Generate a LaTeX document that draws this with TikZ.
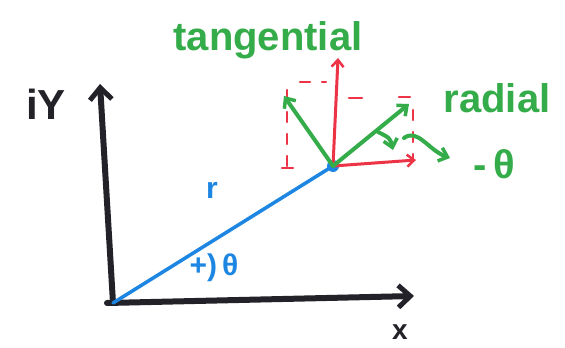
\documentclass[tikz,border=0pt]{standalone}
\usepackage{fontspec}
\setmainfont{Liberation Sans}
\usetikzlibrary{arrows.meta}
\definecolor{gr}{RGB}{52,172,74}
\definecolor{rd}{RGB}{236,52,70}
\definecolor{bl}{RGB}{28,134,226}
\definecolor{bk}{RGB}{34,34,40}
\tikzset{
  blackaxis/.style={bk, line width=6pt, -{Straight Barb[length=12pt,width=22pt,line width=5pt]}},
  redaxis/.style={rd, line width=3pt, -{Straight Barb[length=7pt,width=12pt,line width=2.5pt]}},
  grarrow/.style={gr, line width=4pt, -{Straight Barb[length=8pt,width=14pt,line width=3.5pt]}},
  reddash/.style={rd, line width=2.5pt, dash pattern=on 10pt off 12pt},
  grlabel/.style={text=gr, font=\fontsize{40}{40}\selectfont\bfseries, inner sep=0pt},
  bllabel/.style={text=bl, font=\fontsize{30}{30}\selectfont\bfseries, inner sep=0pt},
  bklabel/.style={text=bk, font=\fontsize{42}{42}\selectfont\bfseries, inner sep=0pt}
}
\begin{document}
\begin{tikzpicture}[x=1pt,y=-1pt, line cap=round, line join=round]
\useasboundingbox (0,0) rectangle (565,348);
\fill[white] (0,0) rectangle (565,348);
% coordinates
\coordinate (O) at (113,303);
\coordinate (ytip) at (100,84);
\coordinate (xtip) at (414,296);
\coordinate (P) at (333,166);
\coordinate (uptip) at (338,58);
\coordinate (righttip) at (416,160);
\coordinate (radtip) at (409,104);
\coordinate (tantip) at (284,96);
% black axes
\draw[blackaxis] (O) -- (ytip);
\draw[blackaxis] ([xshift=-6pt]O) -- (xtip);
% blue radius
\draw[bl, line width=3.5pt] (O) -- (P);
\fill[bl] (P) circle (6pt);
% red local axes
\draw[redaxis] (P) -- (uptip);
\draw[redaxis] (P) -- (righttip);
% red dashed projections
\draw[reddash] (287,90) -- (287,170);
\draw[rd, line width=2.5pt] (282,168) -- (293,168);
\draw[reddash] (300,82) -- (326,82);
\draw[rd, line width=2.5pt] (349,98) -- (362,98);
\draw[rd, line width=2.5pt] (399,97) -- (410,97);
\draw[reddash] (413,110) -- (413,158);
% green vectors
\draw[grarrow] (P) -- (radtip);
\draw[grarrow] (P) -- (tantip);
% small curved arrow
\draw[grarrow] (378,132) .. controls (390,138) .. (393,150);
% squiggle arrow
\draw[grarrow] (404,138) .. controls (418,128) and (428,150) .. (450,158);
% labels
\node[grlabel] (tan) at (268,40) {tangential};
\node[grlabel] (rad) at (497,98) {radial};
\node[grlabel] (mth) at (494,164) {-\,θ};
\node[bklabel] (iy) at (46,104) {iY};
\node[bllabel] (r) at (212,190) {r};
\node[bllabel] (th) at (214,268) {+)\,θ};
\node[bklabel, font=\fontsize{28}{28}\selectfont\bfseries] (x) at (400,332) {x};
\end{tikzpicture}
\end{document}
